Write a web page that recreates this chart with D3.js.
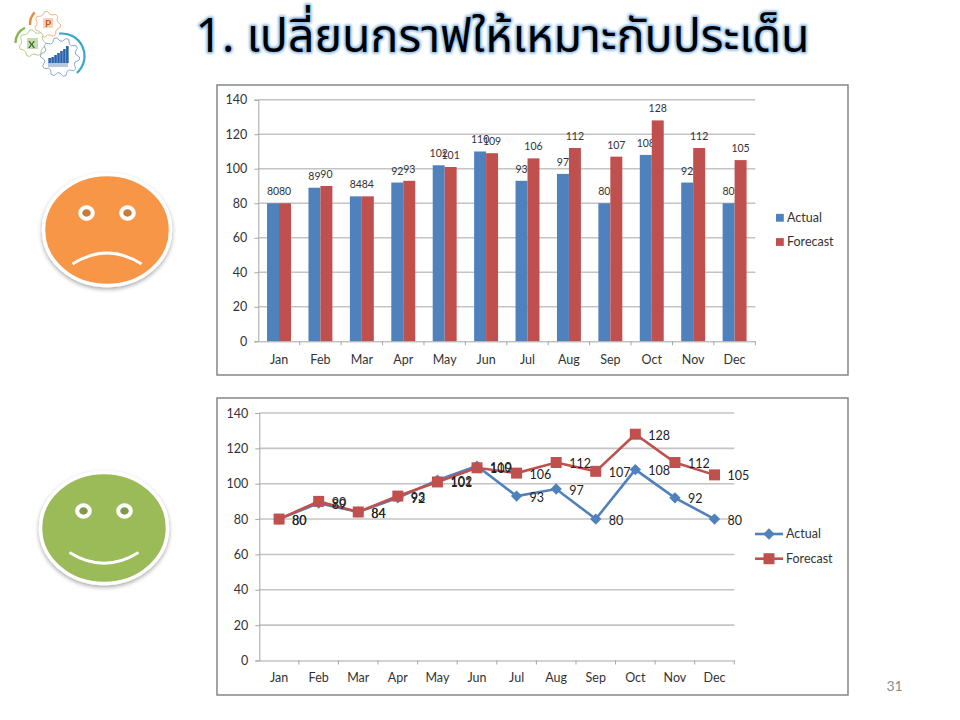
<!DOCTYPE html>
<html><head><meta charset="utf-8">
<script src="https://cdn.jsdelivr.net/npm/d3@7/dist/d3.min.js"></script>
<style>
html,body{margin:0;padding:0;background:#fff}
svg{display:block}
text{font-family:Lato,"Open Sans","Noto Sans",sans-serif}
.axis text{font-size:12.5px;fill:#333;font-family:Lato,sans-serif}
.axis path,.axis line{stroke:#a6a6a6;stroke-width:1}
.grid line{stroke:#c4c4c4;stroke-width:1.6}
.frame{fill:#fff;stroke:#868686;stroke-width:1.5}
</style></head><body>
<svg id="c" width="960" height="720"></svg>
<script>
const months = ["Jan","Feb","Mar","Apr","May","Jun","Jul","Aug","Sep","Oct","Nov","Dec"];
const actual = [80,89,84,92,102,110,93,97,80,108,92,80];
const forecast = [80,90,84,93,101,109,106,112,107,128,112,105];
const yTicks = [0,20,40,60,80,100,120,140];
const seriesNames = ["Actual","Forecast"];
const seriesColors = ["#4f81bd","#c0504d"];
const titleText = "1. เปลี่ยนกราฟให้เหมาะกับประเด็น";
const pageNumber = "31";

const svg = d3.select("#c");
const defs = svg.append("defs");
const glow = defs.append("filter").attr("id","glow").attr("x","-5%").attr("y","-30%").attr("width","110%").attr("height","160%");
glow.append("feGaussianBlur").attr("stdDeviation",1.2);
const sh = defs.append("filter").attr("id","shadow").attr("x","-20%").attr("y","-20%").attr("width","140%").attr("height","140%");
sh.append("feDropShadow").attr("dx",0).attr("dy",2).attr("stdDeviation",2).attr("flood-color","#000").attr("flood-opacity",.35);
const soft = defs.append("filter").attr("id","soft");
soft.append("feGaussianBlur").attr("stdDeviation",.4);

// title
const titleFont = '"Noto Sans Thai","Noto Sans Thai UI","Noto Sans","Open Sans",sans-serif';
svg.append("text").attr("x",502.5).attr("y",52).attr("text-anchor","middle")
  .attr("font-size",46.5).style("font-family",titleFont).attr("fill","#8fbdea").attr("stroke","#8fbdea").attr("stroke-width",3.5)
  .attr("stroke-linejoin","round").attr("filter","url(#glow)").text(titleText);
svg.append("text").attr("id","title").attr("x",502.5).attr("y",52).attr("text-anchor","middle")
  .attr("font-size",46.5).style("font-family",titleFont).attr("fill","#000").text(titleText);

// page number
svg.append("text").attr("x",894.5).attr("y",691).attr("text-anchor","middle")
  .attr("font-size",14).attr("fill","#8b8b8b").text(pageNumber);

// logo
const logo = svg.append("g").attr("filter","url(#soft)");
function gear(cx,cy,r,color,teeth){
  const pts=[];
  const n=teeth*4;
  for(let i=0;i<n;i++){
    const a=i/n*2*Math.PI;
    const R=(i%4<2)?r:r*0.82;
    pts.push([cx+R*Math.cos(a),cy+R*Math.sin(a)]);
  }
  logo.append("path").attr("d",d3.line().curve(d3.curveLinearClosed)(pts))
    .attr("fill","#fff").attr("stroke",color).attr("stroke-width",.9);
}
function arcTo(cx,cy,r,a0,a1,color,w){
  logo.append("path").attr("transform",`translate(${cx},${cy})`)
    .attr("d",d3.arc()({innerRadius:r-w/2,outerRadius:r+w/2,startAngle:a0,endAngle:a1}))
    .attr("fill",color);
}
gear(47.5,24.5,13,"#f0ad78",7);
gear(32.5,43.3,13.5,"#a9c878",7);
gear(60,57,19.5,"#7e9fcf",10);
arcTo(62,56,22.5,-0.13,2.42,"#38a9c9",2.2);
arcTo(47,24,17,-1.63,-0.815,"#e8893e",2.4);
arcTo(32.5,43,17,-1.57,-0.46,"#8cb44e",2.4);
logo.append("rect").attr("x",43).attr("y",18).attr("width",10).attr("height",10).attr("fill","#f6d3ba");
logo.append("text").attr("x",48).attr("y",27).attr("text-anchor","middle").attr("font-size",10).attr("font-weight",700).attr("fill","#c8562a").text("P");
logo.append("rect").attr("x",27).attr("y",38).attr("width",11).attr("height",11).attr("fill","#c5dcae");
logo.append("text").attr("x",31.5).attr("y",48).attr("text-anchor","middle").attr("font-size",10).attr("font-weight",700).attr("fill","#3c6b2a").text("X");
const logoBar = d3.scaleBand().domain(d3.range(7)).range([48,69]).padding(.12);
const logoH = [5,6,8,10,12,14,17];
logo.append("rect").attr("x",48).attr("y",63).attr("width",20).attr("height",4).attr("fill","#b9c7dc");
logo.selectAll(".lb").data(logoH).join("rect").attr("x",(d,i)=>logoBar(i)).attr("width",logoBar.bandwidth())
  .attr("y",d=>63-d).attr("height",d=>d).attr("fill","#2a63ad");

// faces
function face(cx,cy,color,eye,mouth){
  const g=svg.append("g").attr("transform",`translate(${cx},${cy})`);
  g.append("ellipse").attr("rx",63.5).attr("ry",55.5).attr("fill",color).attr("stroke","#fff").attr("stroke-width",3.5).attr("filter","url(#shadow)");
  [-20.5,20.5].forEach(x=>{
    g.append("ellipse").attr("cx",x).attr("cy",-17).attr("rx",6.3).attr("ry",5.7).attr("fill",eye).attr("stroke","#fff").attr("stroke-width",4);
  });
  g.append("path").attr("d",mouth).attr("fill","none").attr("stroke","#fff").attr("stroke-width",2.8);
}
face(107,230,"#f79646","#c77c3e","M-34.5,34 Q0,12 34.5,34");
face(104,528,"#9bbb59","#7f9a49","M-34.5,24.5 Q0,46 34.5,24.5");

// bar chart
svg.append("rect").attr("class","frame").attr("x",217).attr("y",85).attr("width",631).attr("height",290);
const x1 = d3.scaleBand().domain(months).range([258.3,755.3]);
const y1 = d3.scaleLinear().domain([0,140]).range([341.3,99.7]);
const inner = d3.scaleBand().domain(seriesNames).range([0,x1.bandwidth()]).paddingInner(0).paddingOuter(.73);

svg.append("g").attr("class","grid").selectAll("line").data(yTicks.slice(1)).join("line")
  .attr("x1",258.3).attr("x2",755.3).attr("y1",d=>y1(d)).attr("y2",d=>y1(d));

[actual,forecast].forEach((vals,s)=>{
  svg.append("g").selectAll("rect").data(vals).join("rect")
    .attr("x",(d,i)=>x1(months[i])+inner(seriesNames[s]))
    .attr("width",inner.bandwidth())
    .attr("y",d=>y1(d)).attr("height",d=>y1(0)-y1(d))
    .attr("fill",seriesColors[s]);
  svg.append("g").selectAll("text").data(vals).join("text")
    .attr("x",(d,i)=>x1(months[i])+inner(seriesNames[s])+inner.bandwidth()/2)
    .attr("y",d=>y1(d)-8).attr("text-anchor","middle")
    .attr("font-size",10.5).attr("fill","#333").text(d=>d);
});
svg.append("g").attr("class","axis").attr("transform","translate(258.3,0)")
  .call(d3.axisLeft(y1).tickValues(yTicks).tickSize(4).tickPadding(7));
const xa1 = svg.append("g").attr("class","axis").attr("transform","translate(0,341.3)")
  .call(d3.axisBottom(x1).tickSize(0).tickPadding(14));
xa1.selectAll(".sep").data(months).join("line").attr("class","sep")
  .attr("x1",d=>x1(d)+x1.bandwidth()).attr("x2",d=>x1(d)+x1.bandwidth()).attr("y1",0).attr("y2",4);

const leg1 = d3.scalePoint().domain(seriesNames).range([217.8,242]);
seriesNames.forEach((n,i)=>{
  svg.append("rect").attr("x",776).attr("y",leg1(n)-3.9).attr("width",7.8).attr("height",7.8).attr("fill",seriesColors[i]);
  svg.append("text").attr("x",787).attr("y",leg1(n)+4.4).attr("font-size",12.5).attr("fill","#333").text(n);
});

// line chart
svg.append("rect").attr("class","frame").attr("x",217).attr("y",398).attr("width",631).attr("height",297);
const x2 = d3.scaleBand().domain(months).range([259.3,734.3]);
const y2 = d3.scaleLinear().domain([0,140]).range([660.5,413]);
const cx2 = m=>x2(m)+x2.bandwidth()/2;

svg.append("g").attr("class","grid").selectAll("line").data(yTicks.slice(1)).join("line")
  .attr("x1",259.3).attr("x2",734.3).attr("y1",d=>y2(d)).attr("y2",d=>y2(d));
svg.append("g").attr("class","axis").attr("transform","translate(259.3,0)")
  .call(d3.axisLeft(y2).tickValues(yTicks).tickSize(4).tickPadding(7));
const xa2 = svg.append("g").attr("class","axis").attr("transform","translate(0,660.5)")
  .call(d3.axisBottom(x2).tickSize(0).tickPadding(13));
xa2.selectAll(".sep").data(months).join("line").attr("class","sep")
  .attr("x1",d=>x2(d)+x2.bandwidth()).attr("x2",d=>x2(d)+x2.bandwidth()).attr("y1",0).attr("y2",4);

const diamond = d3.symbol().type(d3.symbolSquare).size(64)();
function marker(sel,s){
  if(s===0){ sel.attr("d",diamond).attr("transform",function(){return this.getAttribute("data-t")+" rotate(45)";}); }
  else { sel.attr("d",d3.symbol().type(d3.symbolSquare).size(121)()).attr("transform",function(){return this.getAttribute("data-t");}); }
}
[actual,forecast].forEach((vals,s)=>{
  const g=svg.append("g");
  g.append("path").attr("d",d3.line().x((d,i)=>cx2(months[i])).y(d=>y2(d))(vals))
    .attr("fill","none").attr("stroke",seriesColors[s]).attr("stroke-width",2.6);
  g.selectAll("path.m").data(vals).join("path").attr("class","m")
    .attr("data-t",(d,i)=>`translate(${cx2(months[i])},${y2(d)})`)
    .attr("fill",seriesColors[s]).call(marker,s);
});
[actual,forecast].forEach((vals)=>{
  svg.append("g").selectAll("text").data(vals).join("text")
    .attr("x",(d,i)=>cx2(months[i])+13).attr("y",d=>y2(d)+5.5)
    .attr("font-size",12.5).attr("fill","#222").text(d=>d);
});
const leg2 = d3.scalePoint().domain(seriesNames).range([534,558.7]);
seriesNames.forEach((n,i)=>{
  svg.append("line").attr("x1",755).attr("x2",783).attr("y1",leg2(n)).attr("y2",leg2(n)).attr("stroke",seriesColors[i]).attr("stroke-width",2.6);
  svg.append("path").attr("data-t",`translate(769,${leg2(n)})`).attr("fill",seriesColors[i]).call(marker,i);
  svg.append("text").attr("x",786).attr("y",leg2(n)+4.4).attr("font-size",12.5).attr("fill","#333").text(n);
});
</script></body></html>
